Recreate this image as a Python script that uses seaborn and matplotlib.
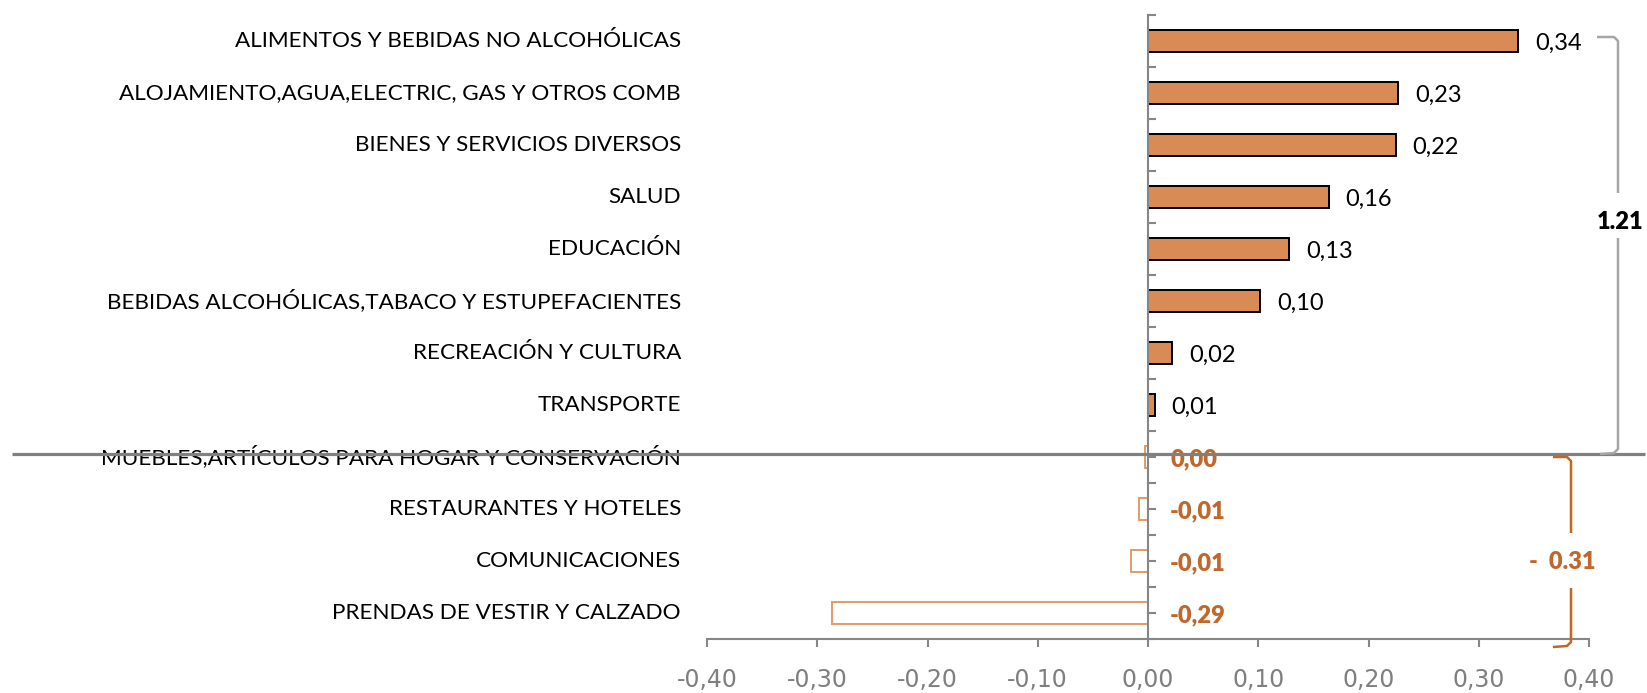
import numpy as np
import matplotlib
matplotlib.use("Agg")
import matplotlib.pyplot as plt
import matplotlib.transforms as mtransforms
from matplotlib.lines import Line2D
import seaborn as sns
import pandas as pd

# ---------------- data ----------------
categories = [
    "ALIMENTOS Y BEBIDAS NO ALCOHÓLICAS",
    "ALOJAMIENTO,AGUA,ELECTRIC, GAS Y OTROS COMB",
    "BIENES Y SERVICIOS DIVERSOS",
    "SALUD",
    "EDUCACIÓN",
    "BEBIDAS ALCOHÓLICAS,TABACO Y ESTUPEFACIENTES",
    "RECREACIÓN Y CULTURA",
    "TRANSPORTE",
    "MUEBLES,ARTÍCULOS PARA HOGAR Y CONSERVACIÓN",
    "RESTAURANTES Y HOTELES",
    "COMUNICACIONES",
    "PRENDAS DE VESTIR Y CALZADO",
]
values = [0.336, 0.227, 0.225, 0.164, 0.128, 0.102, 0.022, 0.006,
          -0.003, -0.008, -0.015, -0.287]
value_labels = ["0,34", "0,23", "0,22", "0,16", "0,13", "0,10", "0,02", "0,01",
                "0,00", "-0,01", "-0,01", "-0,29"]
negative_group = [False] * 8 + [True] * 4
x_ticks = [-0.40, -0.30, -0.20, -0.10, 0.00, 0.10, 0.20, 0.30, 0.40]
x_tick_labels = ["-0,40", "-0,30", "-0,20", "-0,10", "0,00", "0,10", "0,20", "0,30", "0,40"]
total_positive_label = "1.21"
total_negative_label = "-  0.31"

# ---------------- style ----------------
sns.set_style("white")
plt.rcParams["font.family"] = ["Lato", "DejaVu Sans"]

POS_FILL = "#D88B55"
NEG_EDGE = "#E49A66"
ORANGE_TXT = "#C0672B"
AXIS_GRAY = "#868686"
BRACKET_GRAY = "#A6A6A6"
BRACKET_ORANGE = "#C5651F"

W, H = 1647, 693
fig = plt.figure(figsize=(W / 100, H / 100), dpi=100)
left, right, top, bottom = 707, 1589, 15, 639
ax = fig.add_axes([left / W, (H - bottom) / H, (right - left) / W, (bottom - top) / H])

df = pd.DataFrame({"cat": categories, "val": values})
fills = {c: ("white" if n else POS_FILL) for c, n in zip(categories, negative_group)}
sns.barplot(data=df, x="val", y="cat", hue="cat", palette=fills, orient="h",
            width=0.42, legend=False, saturation=1, ax=ax, order=categories,
            hue_order=categories)

for p in ax.patches:
    idx = int(round(p.get_y() + p.get_height() / 2))
    if negative_group[idx]:
        p.set_edgecolor(NEG_EDGE)
        p.set_facecolor("white")
    else:
        p.set_edgecolor("black")
    p.set_linewidth(1.4)

ax.set_xlim(-0.40, 0.40)
ax.set_ylim(len(categories) - 0.5, -0.5)
ax.set_xlabel("")
ax.set_ylabel("")

# axes / spines
for s in ["top", "right"]:
    ax.spines[s].set_visible(False)
ax.spines["left"].set_position(("data", 0))
for s in ["left", "bottom"]:
    ax.spines[s].set_color(AXIS_GRAY)
    ax.spines[s].set_linewidth(1.5)

ax.set_yticks(np.arange(-0.5, len(categories), 0.5))
ax.set_yticklabels([])
ax.tick_params(axis="y", left=True, direction="in", length=5.8, width=1.5, color=AXIS_GRAY)

ax.set_xticks(x_ticks)
ax.set_xticklabels(x_tick_labels, color="#7F7F7F", fontsize=17,
                   family=["Liberation Sans Narrow", "DejaVu Sans"])
ax.tick_params(axis="x", bottom=True, direction="out", length=5.8, width=1.5,
               color=AXIS_GRAY, pad=15)

# category labels
trans = mtransforms.blended_transform_factory(ax.transAxes, ax.transData)
for i, c in enumerate(categories):
    ax.text(-0.0295, i, c, transform=trans, ha="right", va="center",
            fontsize=16.2, color="black")

# value labels
for i, (v, lab, neg) in enumerate(zip(values, value_labels, negative_group)):
    if neg:
        ax.annotate(lab, xy=(0, i), xytext=(16, -1.5), textcoords="offset points",
                    ha="left", va="center", fontsize=17, fontweight="heavy",
                    color=ORANGE_TXT)
    else:
        ax.annotate(lab, xy=(v, i), xytext=(12, -1.5), textcoords="offset points",
                    ha="left", va="center", fontsize=17, color="black")

# ---------------- figure-level decorations ----------------
def fx(x):
    return x / W

def fy(y):
    return (H - y) / H

def poly(pts, color, lw):
    xs = [fx(p[0]) for p in pts]
    ys = [fy(p[1]) for p in pts]
    fig.add_artist(Line2D(xs, ys, color=color, lw=lw, solid_capstyle="butt",
                          solid_joinstyle="round", transform=fig.transFigure))

# separator line
poly([(12, 454), (1645, 454)], "#808080", 2.3)

# grey bracket
poly([(1597, 37), (1614, 37), (1618, 41), (1618, 193)], BRACKET_GRAY, 1.8)
poly([(1618, 238), (1618, 449), (1614, 453), (1600, 454)], BRACKET_GRAY, 1.8)
fig.text(fx(1620), fy(222), total_positive_label, ha="center", va="center",
         fontsize=17, fontweight="heavy", color="black")

# orange bracket
poly([(1553, 457), (1567, 457), (1571, 461), (1571, 533)], BRACKET_ORANGE, 1.8)
poly([(1571, 588), (1571, 642), (1567, 646), (1553, 647)], BRACKET_ORANGE, 1.8)
fig.text(fx(1562), fy(562), total_negative_label, ha="center", va="center",
         fontsize=17, fontweight="heavy", color=ORANGE_TXT)

fig.savefig("out.png", dpi=100)
